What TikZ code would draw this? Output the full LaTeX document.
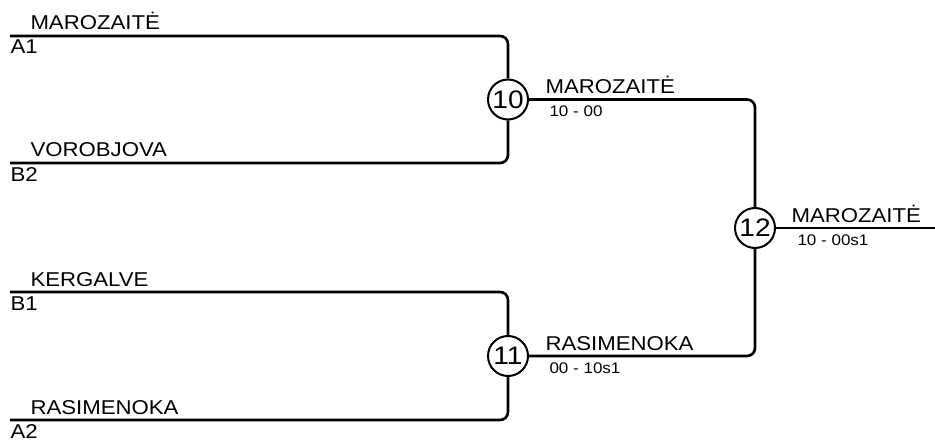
\documentclass[tikz,border=0pt]{standalone}
\usepackage{fontspec}
\setmainfont{Liberation Sans}[FakeStretch=1.11]
\newcommand\namefont{\fontsize{15}{17}\selectfont}
\newcommand\scorefont{\fontsize{11.5}{13}\selectfont}
\newcommand\matchfont{\fontsize{19}{21}\selectfont}
\tikzset{every picture/.style={line width=0.75pt}}
\tikzset{
  bracket/.style={line width=2pt, rounded corners=6pt},
  matchno/.style={circle, draw, fill=white, line width=1.5pt, minimum size=30pt, inner sep=0pt, font=\matchfont},
  player/.style={anchor=base west, inner sep=0pt, font=\namefont},
  score/.style={anchor=base west, inner sep=0pt, font=\scorefont}
}

\begin{document}
\begin{tikzpicture}[x=0.75pt,y=0.75pt,yscale=-1,xscale=1]
    \useasboundingbox (0,0) rectangle (935,442);
    % Line starts
    \coordinate (a1) at (10,36);
    \coordinate (b2) at (10,163);
    \coordinate (b1) at (10,292);
    \coordinate (a2) at (10,420);
    \coordinate (final) at (935,228);
    % Match Nodes
    \node [matchno] (m10) at (508,99.5) {10};
    \node [matchno] (m11) at (508,356) {11};
    \node [matchno] (m12) at (755,228) {12};
    % Connection
    \draw [bracket] (a1) -| (m10.north) ;
    \draw [bracket] (b2) -| (m10.south) ;
    \draw [bracket] (b1) -| (m11.north) ;
    \draw [bracket] (a2) -| (m11.south) ;
    \draw [bracket] (m10.east) -| (m12.north) ;
    \draw [bracket] (m11.east) -| (m12.south) ;
    \draw [bracket] (m12.east) -- (final) ;
    % Text Node
    \node [player] (nA1) at (30,29.5) {MAROZAITĖ};
    \node [player] (sA1) at (10,54) {A1};
    \node [player] (nB2) at (30,157) {VOROBJOVA};
    \node [player] (sB2) at (10,181) {B2};
    \node [player] (nB1) at (30,286) {KERGALVE};
    \node [player] (sB1) at (10,310) {B1};
    \node [player] (nA2) at (30,414) {RASIMENOKA};
    \node [player] (sA2) at (10,438) {A2};
    % Text Node
    \node [player] (w10) at (545,94) {MAROZAITĖ};
    \node [score] (r10) at (549,117) {10 - 00};
    \node [player] (w11) at (545,350) {RASIMENOKA};
    \node [score] (r11) at (549,373) {00 - 10s1};
    \node [player] (w12) at (791,222) {MAROZAITĖ};
    \node [score] (r12) at (797,245) {10 - 00s1};
\end{tikzpicture}
\end{document}
